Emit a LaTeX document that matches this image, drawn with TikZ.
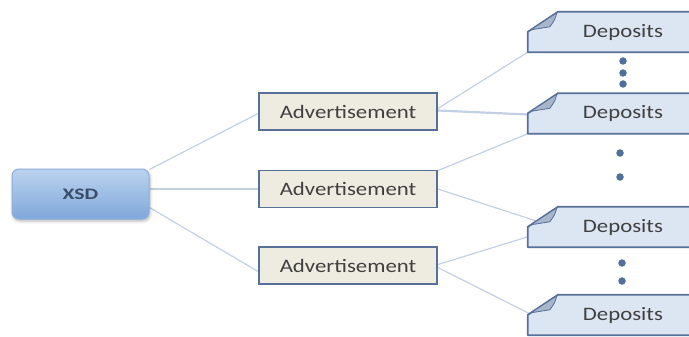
\documentclass[tikz,border=0pt]{standalone}
\usepackage{fontspec}
\setmainfont{Carlito}
\newfontfamily\labelfont[FakeStretch=1.2]{Carlito}
\newfontfamily\rootfont[FakeStretch=1.35]{Carlito}
\usetikzlibrary{calc,backgrounds,shadows.blur}

\definecolor{linkc}{HTML}{C3D0E4}
\definecolor{xsdtop}{HTML}{BCD3EF}
\definecolor{xsdbot}{HTML}{7FA7DA}
\definecolor{xsdline}{HTML}{8DAEDC}
\definecolor{xsdtext}{HTML}{394D68}
\definecolor{adfill}{HTML}{EEECE1}
\definecolor{boxline}{HTML}{56709A}
\definecolor{depfill}{HTML}{DCE5F2}
\definecolor{foldc}{HTML}{A8B5CA}
\definecolor{dotc}{HTML}{4F6F9C}
\definecolor{txt}{HTML}{404040}

\begin{document}
\begin{tikzpicture}[x=1pt,y=-1pt,
  rootbox/.style={minimum width=137pt, minimum height=50pt, inner sep=0pt,
    rounded corners=7pt, top color=xsdtop, bottom color=xsdbot,
    draw=xsdline, line width=1pt, text=xsdtext,
    font=\rootfont\bfseries\fontsize{16}{16}\selectfont,
    blur shadow={shadow xshift=1pt, shadow yshift=-2pt,
      shadow blur radius=3pt, shadow opacity=30}},
  adbox/.style={minimum width=178pt, minimum height=37pt, inner sep=0pt,
    fill=adfill, draw=boxline, line width=1.8pt, text=txt,
    font=\labelfont\fontsize{19}{19}\selectfont},
  depnode/.style={minimum width=190pt, minimum height=40pt, inner sep=0pt,
    text=txt, font=\labelfont\fontsize{19}{19}\selectfont},
  depbody/.style={fill=depfill, draw=boxline, line width=1.8pt, line join=round},
  depfold/.style={fill=foldc, draw=boxline, line width=0.8pt, line join=round},
  dot/.style={circle, fill=dotc, inner sep=0pt, minimum size=7.5pt},
  link/.style={draw=linkc, line width=1.2pt},
  mainlink/.style={line width=2.2pt}
]
\useasboundingbox (0,0) rectangle (689,337);

% root
\node[rootbox] (xsd) at (80.5,194) {XSD};

% middle level
\node[adbox] (ad1) at (348,111.5) {Advertisement};
\node[adbox] (ad2) at (348,189)   {Advertisement};
\node[adbox] (ad3) at (348,265.5) {Advertisement};

% leaf level (text holders; outlines drawn below)
\node[depnode] (dep1) at (623,32)    {Deposits};
\node[depnode] (dep2) at (623,113.5) {Deposits};
\node[depnode] (dep3) at (623,227)   {Deposits};
\node[depnode] (dep4) at (623,315)   {Deposits};

% ellipsis dots
\node[dot] (g1a) at (623,61) {};
\node[dot] (g1b) at (623,73) {};
\node[dot] (g1c) at (623,84) {};
\node[dot] (g2a) at (620,153) {};
\node[dot] (g2b) at (620,177) {};
\node[dot] (g3a) at (622,263) {};
\node[dot] (g3b) at (622,281) {};

\begin{scope}[on background layer]
  % connectors
  \draw[link] ($(xsd.north east)+(0,1)$) -- ($(ad1.west)+(0,2)$);
  \draw[link,mainlink] (xsd.east |- ad2.west) -- (ad2.west);
  \draw[link] ($(xsd.south east)+(0,-12)$) -- ($(ad3.west)+(0,6)$);
  \draw[link] ($(ad1.east)+(0,-3)$) -- (dep1.south west);
  \draw[link,mainlink] ($(ad1.east)+(0,-1)$) -- ($(dep2.west)+(0,1)$);
  \draw[link] ($(ad2.north east)+(0,1)$) -- (dep2.south west);
  \draw[link] (ad2.east) -- ($(dep3.north west)+(8,14)$);
  \draw[link] ($(ad3.east)+(0,-1)$) -- ($(dep3.north west)+(0,30)$);
  \draw[link] ($(ad3.east)+(0,2)$) -- ($(dep4.north west)+(2,19)$);
  % dog-eared leaf boxes
  \foreach \d in {dep1,dep2,dep3,dep4}{
    \draw[depbody] ($(\d.north west)+(0,20)$) -- ($(\d.north west)+(30,0)$)
      -- (\d.north east) -- (\d.south east) -- (\d.south west) -- cycle;
    \draw[depfold] ($(\d.north west)+(3,18)$) -- ($(\d.north west)+(29,1)$)
      .. controls ($(\d.north west)+(27,8)$) .. ($(\d.north west)+(22,15)$) -- cycle;
  }
\end{scope}
\end{tikzpicture}
\end{document}
